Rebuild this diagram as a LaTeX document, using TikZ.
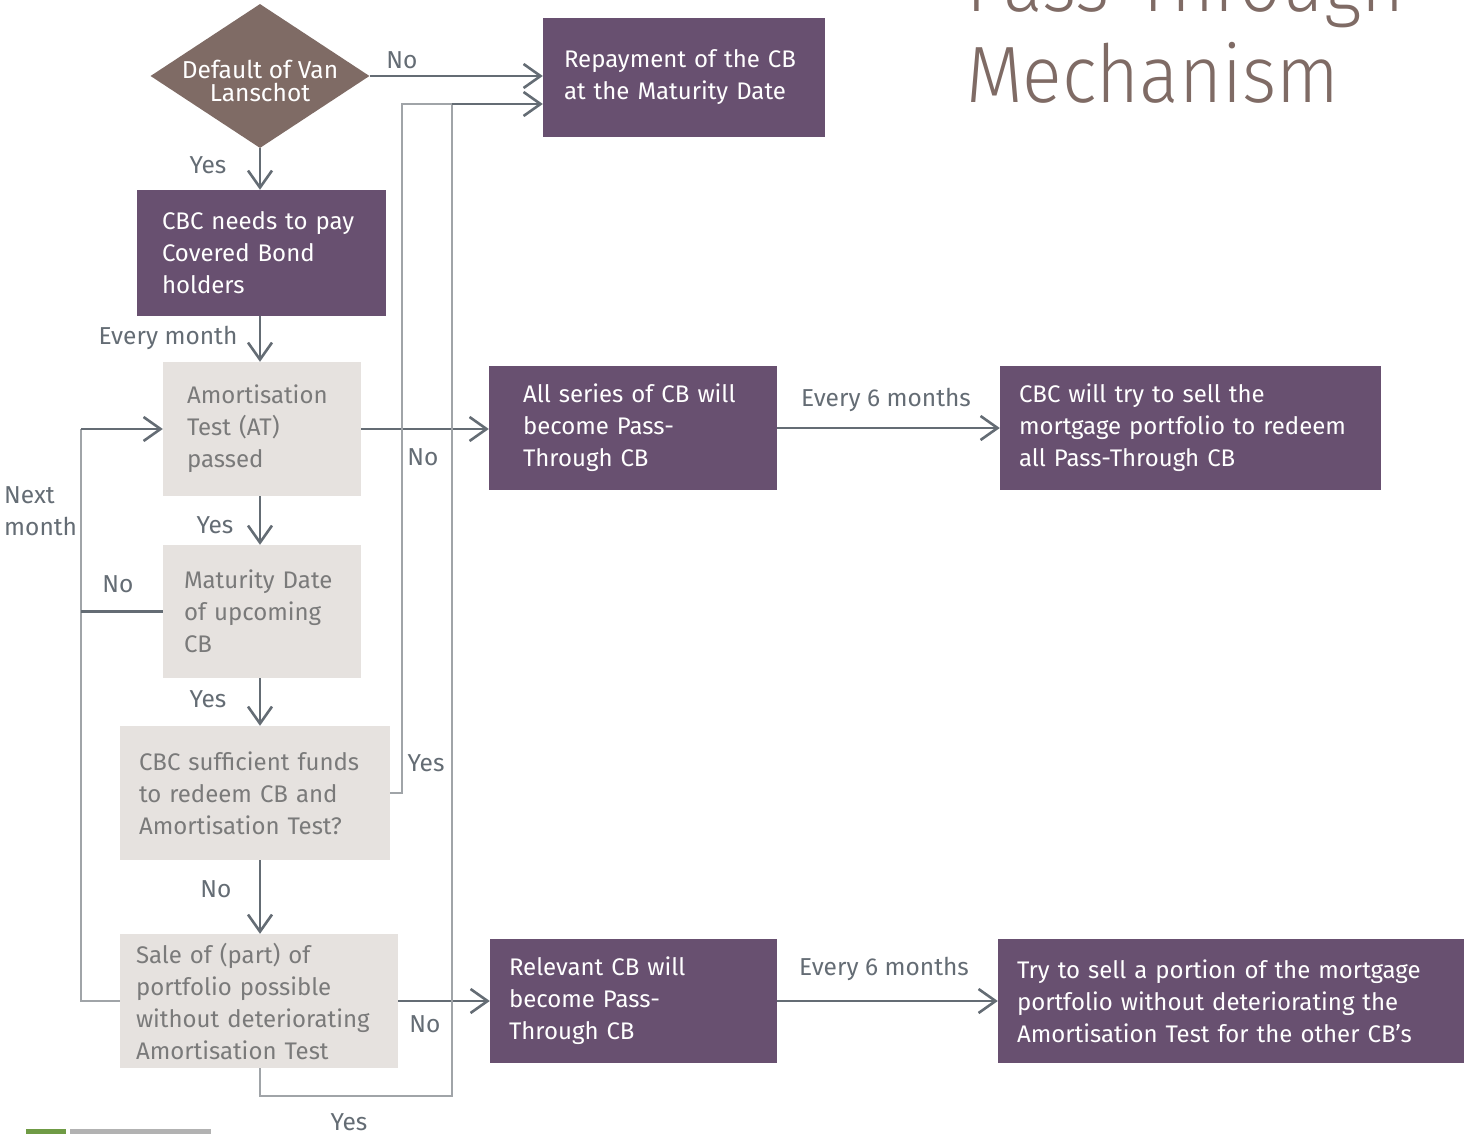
\documentclass[tikz,border=0pt]{standalone}
\usepackage{fontspec}
\setmainfont{Fira Sans}
\newfontfamily\titlefont[FakeStretch=0.92]{Fira Sans Light}
\usetikzlibrary{arrows.meta,shapes.geometric}
\definecolor{purp}{HTML}{685070}
\definecolor{brn}{HTML}{7F6B65}
\definecolor{lgr}{HTML}{E6E2DF}
\definecolor{arrc}{HTML}{646C74}
\definecolor{thinc}{HTML}{A0A4A8}
\definecolor{gtext}{HTML}{7A7A7A}
\definecolor{lblc}{HTML}{646C74}
\definecolor{logog}{HTML}{6F9B45}
\definecolor{logogr}{HTML}{B2B2B2}
\begin{document}
\begin{tikzpicture}[x=1pt,y=-1pt,
  btxt/.style={font=\fontsize{24}{32}\selectfont, align=left, anchor=center, inner ysep=0pt},
  pbox/.style={btxt, fill=purp, text=white},
  gbox/.style={btxt, fill=lgr, text=gtext},
  lbl/.style={font=\fontsize{24.5}{30}\selectfont, text=lblc, inner sep=0pt, anchor=center},
  arr/.style={draw=arrc, line width=2.6pt, -{Straight Barb[length=17pt,width=24pt]}},
  darkline/.style={draw=arrc, line width=2.6pt},
  thinline/.style={draw=thinc, line width=1.6pt}]
\useasboundingbox (0,0) rectangle (1464,1134);
% title
\node[font=\titlefont\fontsize{80}{91}\selectfont, text=brn, anchor=base west, inner sep=0pt] (t1) at (966,12) {Pass-Through};
\node[font=\titlefont\fontsize{80}{91}\selectfont, text=brn, anchor=base west, inner sep=0pt] (t2) at (966,103) {Mechanism};
% diamond
\node[diamond, fill=brn, minimum width=219pt, minimum height=144pt, inner sep=0pt, aspect=1.52] (dia) at (260,76) {};
\node[font=\fontsize{24.5}{23}\selectfont, text=white, align=center, inner sep=0pt] (diatxt) at (260,81) {Default of Van\\Lanschot};
% boxes
\node[pbox, minimum height=119pt, text width=240pt, inner xsep=21pt] (rep) at (684,77.5) {Repayment of the CB\\at the Maturity Date};
\node[pbox, minimum height=126pt, text width=199pt, inner xsep=25pt] (cbc) at (261.5,253) {CBC needs to pay\\Covered Bond\\holders};
\node[gbox, minimum height=134pt, text width=150pt, inner xsep=24pt] (at) at (262,429) {Amortisation\\Test (AT)\\passed};
\node[gbox, minimum height=133pt, text width=156pt, inner xsep=21pt] (mat) at (262,611.5) {Maturity Date\\of upcoming\\CB};
\node[gbox, minimum height=134pt, text width=232pt, inner xsep=19pt] (suf) at (255,793) {CBC sufficient funds\\to redeem CB and\\Amortisation Test?};
\node[gbox, minimum height=134pt, text width=246pt, inner xsep=16pt] (sale) at (259,1001) {Sale of (part) of\\portfolio possible\\without deteriorating\\Amortisation Test};
\node[pbox, minimum height=124pt, text width=220pt, inner xsep=34pt] (all) at (633,428) {All series of CB will\\become Pass-\\Through CB};
\node[pbox, minimum height=124pt, text width=343pt, inner xsep=19pt] (try1) at (1190.5,428) {CBC will try to sell the\\mortgage portfolio to redeem\\all Pass-Through CB};
\node[pbox, minimum height=124pt, text width=249pt, inner xsep=19pt] (rel) at (633.5,1001) {Relevant CB will\\become Pass-\\Through CB};
\node[pbox, minimum height=124pt, text width=428pt, inner xsep=19pt] (try2) at (1231,1001) {Try to sell a portion of the mortgage\\portfolio without deteriorating the\\Amortisation Test for the other CB's};
% helper coordinates
\coordinate (sp) at (260,0);
\coordinate (lx) at (81,0);
\coordinate (rx) at (402,0);
\coordinate (j1) at (402,104);
\coordinate (j2) at (452,104);
\coordinate (bot) at (452,1096);
% connectors
\draw[arr] (dia.east) -- (dia.east -| rep.west);
\draw[arr] (dia.south) -- (sp |- cbc.north);
\draw[arr] (sp |- cbc.south) -- (sp |- at.north);
\draw[arr] (sp |- at.south) -- (sp |- mat.north);
\draw[arr] (sp |- mat.south) -- (sp |- suf.north);
\draw[arr] (sp |- suf.south) -- (sp |- sale.north);
\draw[arr] (at.east) -- (at.east -| all.west);
\draw[arr] (sale.east) -- (sale.east -| rel.west);
\draw[arr] (all.east) -- (all.east -| try1.west);
\draw[arr] (rel.east) -- (rel.east -| try2.west);
% left loop
\draw[thinline] (sale.west) -- (sale.west -| lx) -- (lx |- at.west);
\draw[darkline] (mat.west) -- (mat.west -| lx);
\draw[arr] (lx |- at.west) -- (at.west);
% right loop
\draw[thinline] (suf.east) -- (suf.east -| rx) -- (j1) -- (j2);
\draw[thinline] (sp |- sale.south) -- (sp |- bot) -- (bot) -- (j2);
\draw[arr] (j2) -- (j2 -| rep.west);
% labels
\node[lbl] (l1) at (402,60) {No};
\node[lbl] (l2) at (208,165) {Yes};
\node[lbl] (l3) at (168,338) {Every month};
\node[lbl] (l4) at (423,457) {No};
\node[lbl] (l5) at (215,525) {Yes};
\node[lbl] (l6) at (118,584) {No};
\node[lbl, anchor=west, align=left, font=\fontsize{24.5}{32}\selectfont] (l7) at (4,511) {Next\\month};
\node[lbl] (l8) at (208,699) {Yes};
\node[lbl] (l9) at (426,763) {Yes};
\node[lbl] (l10) at (216,889) {No};
\node[lbl] (l11) at (425,1024) {No};
\node[lbl] (l12) at (349,1122) {Yes};
\node[lbl] (l13) at (886,400) {Every 6 months};
\node[lbl] (l14) at (884,969) {Every 6 months};
% logo fragments
\fill[logog] (26,1129) rectangle (66,1134);
\fill[logogr] (70,1129) rectangle (211,1134);
\end{tikzpicture}
\end{document}
